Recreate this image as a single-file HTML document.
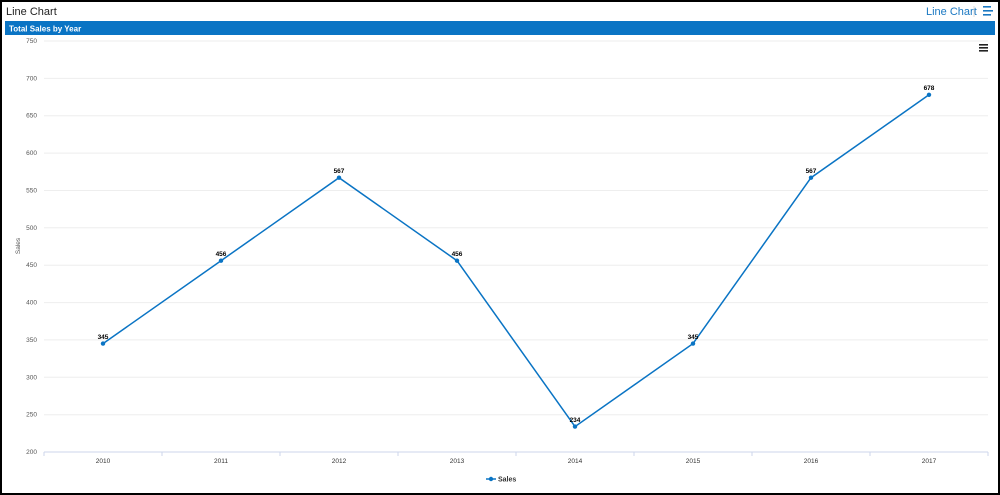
<!DOCTYPE html>
<html><head><style>
html,body{margin:0;padding:0;background:#fff}
#f{position:absolute;left:0;top:0;width:996px;height:491px;border:2px solid #000;overflow:hidden}
</style></head><body>
<div id="f">
<svg width="996" height="491" xmlns="http://www.w3.org/2000/svg" font-family="Liberation Sans, sans-serif" style="position:absolute;left:-2px;top:-2px;overflow:visible">
<text x="6" y="15" font-size="11" fill="#222">Line Chart</text>
<text x="926" y="15" font-size="11" fill="#1a78c2">Line Chart</text>
<line x1="974" y1="6" x2="974" y2="17" stroke="#ddd"/>
<rect x="983" y="6" width="8" height="1.6" fill="#1a78c2"/><rect x="983" y="10" width="10" height="1.6" fill="#1a78c2"/><rect x="983" y="14" width="8" height="1.6" fill="#1a78c2"/>
<rect x="5" y="21" width="990" height="14" fill="#0a74c4"/>
<text x="9" y="31.5" font-size="8" font-weight="bold" fill="#fff">Total Sales by Year</text>
<rect x="979" y="44" width="9" height="1.6" fill="#222"/><rect x="979" y="47" width="9" height="1.6" fill="#222"/><rect x="979" y="50" width="9" height="1.6" fill="#222"/>
<g stroke="#eeeeee" stroke-width="1">
<line x1="44" x2="988" y1="41" y2="41"/><line x1="44" x2="988" y1="78.4" y2="78.4"/><line x1="44" x2="988" y1="115.7" y2="115.7"/><line x1="44" x2="988" y1="153.1" y2="153.1"/><line x1="44" x2="988" y1="190.5" y2="190.5"/><line x1="44" x2="988" y1="227.8" y2="227.8"/><line x1="44" x2="988" y1="265.2" y2="265.2"/><line x1="44" x2="988" y1="302.6" y2="302.6"/><line x1="44" x2="988" y1="339.9" y2="339.9"/><line x1="44" x2="988" y1="377.3" y2="377.3"/><line x1="44" x2="988" y1="414.7" y2="414.7"/>
</g>
<line x1="44" x2="988" y1="452" y2="452" stroke="#ccd6eb"/>
<g stroke="#ccd6eb"><line x1="44" x2="44" y1="452" y2="456"/><line x1="162" x2="162" y1="452" y2="456"/><line x1="280" x2="280" y1="452" y2="456"/><line x1="398" x2="398" y1="452" y2="456"/><line x1="516" x2="516" y1="452" y2="456"/><line x1="634" x2="634" y1="452" y2="456"/><line x1="752" x2="752" y1="452" y2="456"/><line x1="870" x2="870" y1="452" y2="456"/><line x1="988" x2="988" y1="452" y2="456"/></g>
<g font-size="6.5" fill="#555" text-anchor="end">
<text x="37" y="43">750</text><text x="37" y="80.4">700</text><text x="37" y="117.7">650</text><text x="37" y="155.1">600</text><text x="37" y="192.5">550</text><text x="37" y="229.8">500</text><text x="37" y="267.2">450</text><text x="37" y="304.6">400</text><text x="37" y="341.9">350</text><text x="37" y="379.3">300</text><text x="37" y="416.7">250</text><text x="37" y="454">200</text>
</g>
<text transform="translate(20,246) rotate(-90)" font-size="6.5" fill="#555" text-anchor="middle">Sales</text>
<g font-size="6.5" fill="#333" text-anchor="middle">
<text x="103" y="463">2010</text><text x="221" y="463">2011</text><text x="339" y="463">2012</text><text x="457" y="463">2013</text><text x="575" y="463">2014</text><text x="693" y="463">2015</text><text x="811" y="463">2016</text><text x="929" y="463">2017</text>
</g>
<polyline fill="none" stroke="#0a74c4" stroke-width="1.5" points="103,343.6 221,260.7 339,177.7 457,260.7 575,426.6 693,343.6 811,177.7 929,94.8"/>
<g fill="#0a74c4"><circle cx="103" cy="343.6" r="2.2"/><circle cx="221" cy="260.7" r="2.2"/><circle cx="339" cy="177.7" r="2.2"/><circle cx="457" cy="260.7" r="2.2"/><circle cx="575" cy="426.6" r="2.2"/><circle cx="693" cy="343.6" r="2.2"/><circle cx="811" cy="177.7" r="2.2"/><circle cx="929" cy="94.8" r="2.2"/></g>
<g font-size="6.5" font-weight="bold" fill="#000" text-anchor="middle">
<text x="103" y="339">345</text><text x="221" y="256">456</text><text x="339" y="173">567</text><text x="457" y="256">456</text><text x="575" y="422">234</text><text x="693" y="339">345</text><text x="811" y="173">567</text><text x="929" y="90">678</text>
</g>
<line x1="486" x2="496" y1="479" y2="479" stroke="#0a74c4" stroke-width="1.5"/><circle cx="491" cy="479" r="2.2" fill="#0a74c4"/>
<text x="498" y="481.5" font-size="7" font-weight="bold" fill="#333">Sales</text>
</svg>
</div>
</body></html>
